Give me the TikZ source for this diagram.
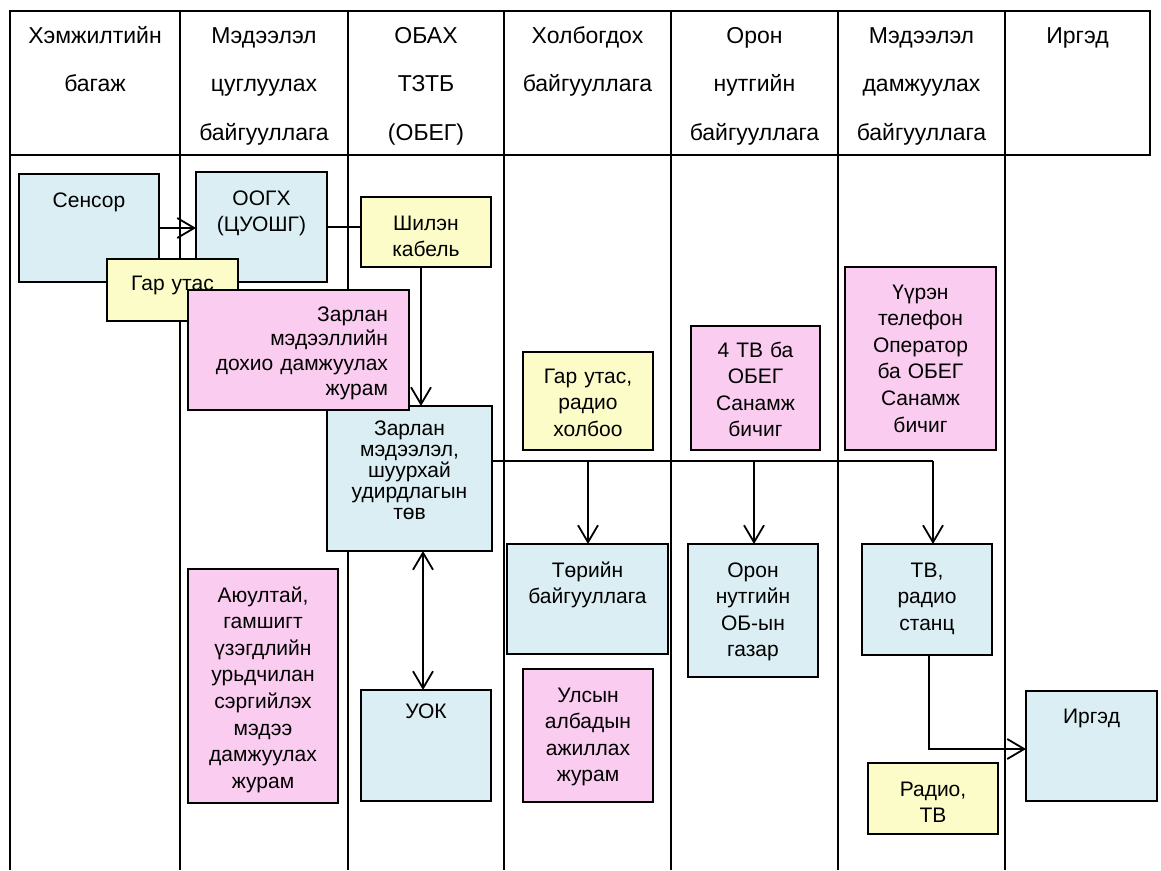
\documentclass[tikz,border=0pt]{standalone}
\usepackage{fontspec}
\setmainfont{Liberation Sans}
\usetikzlibrary{arrows.meta,calc}
\definecolor{bxblue}{HTML}{DAEEF3}
\definecolor{bxpink}{HTML}{F9CCF0}
\definecolor{bxyellow}{HTML}{FCFCC8}
\begin{document}
\begin{tikzpicture}[x=1pt,y=-1pt,
  gridline/.style={line width=2pt,black},
  box/.style={draw=black,line width=2pt,inner sep=0pt,outer sep=0pt},
  bblue/.style={box,fill=bxblue},
  bpink/.style={box,fill=bxpink},
  byellow/.style={box,fill=bxyellow},
  tx/.style={inner sep=0pt,outer sep=0pt,anchor=base,align=center,text width=#1,font=\fontsize{21}{26.5}\selectfont},
  tx/.default=150pt,
  hd/.style={inner sep=0pt,outer sep=0pt,anchor=base,align=center,text width=165pt,font=\fontsize{23}{48.5}\selectfont},
  conn/.style={line width=2pt,black},
  arr/.style={-{Straight Barb[length=17pt,width=20pt,line width=1.8pt]}},
  darr/.style={{Straight Barb[length=17pt,width=20pt,line width=1.8pt]}-{Straight Barb[length=17pt,width=20pt,line width=1.8pt]}}
]
\fill[white] (0,0) rectangle (1161,870);
\useasboundingbox (0,0) rectangle (1161,870);

% table grid
\draw[gridline] (9,11) -- (1151,11);
\draw[gridline] (9,155) -- (1151,155);
\foreach \xx in {10,180,348,504,671,838,1005} {\draw[gridline] (\xx,11) -- (\xx,870);}
\draw[gridline] (1150,11) -- (1150,155);

% header texts
\node[hd] (h1) at (95,43) {Хэмжилтийн\\багаж};
\node[hd] (h2) at (264,43) {Мэдээлэл\\цуглуулах\\байгууллага};
\node[hd] (h3) at (426,43) {ОБАХ\\ТЗТБ\\(ОБЕГ)};
\node[hd] (h4) at (587.5,43) {Холбогдох\\байгууллага};
\node[hd] (h5) at (754.5,43) {Орон\\нутгийн\\байгууллага};
\node[hd] (h6) at (921.5,43) {Мэдээлэл\\дамжуулах\\байгууллага};
\node[hd] (h7) at (1077.5,43) {Иргэд};

% boxes
\node[bblue,minimum width=140pt,minimum height=108pt] (sensor) at (89,228) {};
\node[tx] (sensorT) at (89,207) {Сенсор};
\node[bblue,minimum width=131pt,minimum height=110pt] (oogh) at (261.5,227) {};
\node[tx] (ooghT) at (261.5,205) {ООГХ\\(ЦУОШГ)};
\node[byellow,minimum width=130pt,minimum height=70pt] (shilen) at (426,232) {};
\node[tx,font=\fontsize{21}{26}\selectfont] (shilenT) at (426,230) {Шилэн\\кабель};
\node[byellow,minimum width=131pt,minimum height=62pt] (garutas) at (172.5,290) {};
\node[tx] (garutasT) at (172.5,290) {Гар утас};
\node[bblue,minimum width=165pt,minimum height=145pt] (center) at (409.5,478.5) {};
\node[tx,font=\fontsize{21}{21}\selectfont] (centerT) at (409.5,435) {Зарлан\\мэдээлэл,\\шуурхай\\удирдлагын\\төв};
\node[bpink,minimum width=221pt,minimum height=120pt] (zarlan) at (298.5,350) {};
\node[tx=200pt,anchor=base east,align=right,font=\fontsize{21}{24.7}\selectfont] (zarlanT) at (388,321) {Зарлан\\мэдээллийн\\дохио дамжуулах\\журам};

\node[byellow,minimum width=130pt,minimum height=98pt] (gar2) at (588,401) {};
\node[tx] (gar2T) at (588,383) {Гар утас,\\радио\\холбоо};
\node[bpink,minimum width=129pt,minimum height=124pt] (tv4) at (755.5,388) {};
\node[tx] (tv4T) at (755.5,357) {4 ТВ ба\\ОБЕГ\\Санамж\\бичиг};
\node[bpink,minimum width=151pt,minimum height=183pt] (uuren) at (920.5,358.5) {};
\node[tx,font=\fontsize{21}{26.6}\selectfont] (uurenT) at (920.5,299) {Үүрэн\\телефон\\Оператор\\ба ОБЕГ\\Санамж\\бичиг};

\node[bblue,minimum width=161pt,minimum height=110pt] (torin) at (587.5,599) {};
\node[tx] (torinT) at (587.5,577) {Төрийн\\байгууллага};
\node[bblue,minimum width=130pt,minimum height=133pt] (oron) at (753,610.5) {};
\node[tx] (oronT) at (753,577) {Орон\\нутгийн\\ОБ-ын\\газар};
\node[bblue,minimum width=130pt,minimum height=111pt] (tvr) at (927,599.5) {};
\node[tx] (tvrT) at (927,577) {ТВ,\\радио\\станц};
\node[bblue,minimum width=131pt,minimum height=110pt] (irged) at (1091.5,746) {};
\node[tx] (irgedT) at (1091.5,723) {Иргэд};
\node[byellow,minimum width=130pt,minimum height=71pt] (radiotv) at (933,798.5) {};
\node[tx] (radiotvT) at (933,796) {Радио,\\ТВ};

\node[bpink,minimum width=150pt,minimum height=234pt] (ayul) at (263,686) {};
\node[tx,font=\fontsize{21}{26.6}\selectfont] (ayulT) at (263,602) {Аюултай,\\гамшигт\\үзэгдлийн\\урьдчилан\\сэргийлэх\\мэдээ\\дамжуулах\\журам};
\node[bblue,minimum width=130pt,minimum height=111pt] (uok) at (426,745.5) {};
\node[tx] (uokT) at (426,718) {УОК};
\node[bpink,minimum width=130pt,minimum height=133pt] (ulsyn) at (588,735.5) {};
\node[tx] (ulsynT) at (588,702) {Улсын\\албадын\\ажиллах\\журам};

% connectors
\draw[conn,arr] (sensor.east) -- (sensor.east -| oogh.west);
\draw[conn] (oogh.east) -- (oogh.east -| shilen.west);
\coordinate (s1) at (421,0);
\draw[conn,arr] (shilen.south -| s1) -- (center.north -| s1);
\coordinate (busY) at (0,461);
\coordinate (b1) at (588,461);
\coordinate (b2) at (754,461);
\coordinate (b3) at (933,461);
\draw[conn] (center.east |- busY) -- (b3);
\draw[conn,arr] (b1) -- (b1 |- torin.north);
\draw[conn,arr] (b2) -- (b2 |- oron.north);
\draw[conn,arr] (b3) -- (b3 |- tvr.north);
\coordinate (dx) at (423,0);
\draw[conn,darr] (center.south -| dx) -- (uok.north -| dx);
\coordinate (t1) at (929,749);
\draw[conn,arr] (tvr.south -| t1) -- (t1) -- (t1 -| irged.west);
\end{tikzpicture}
\end{document}
